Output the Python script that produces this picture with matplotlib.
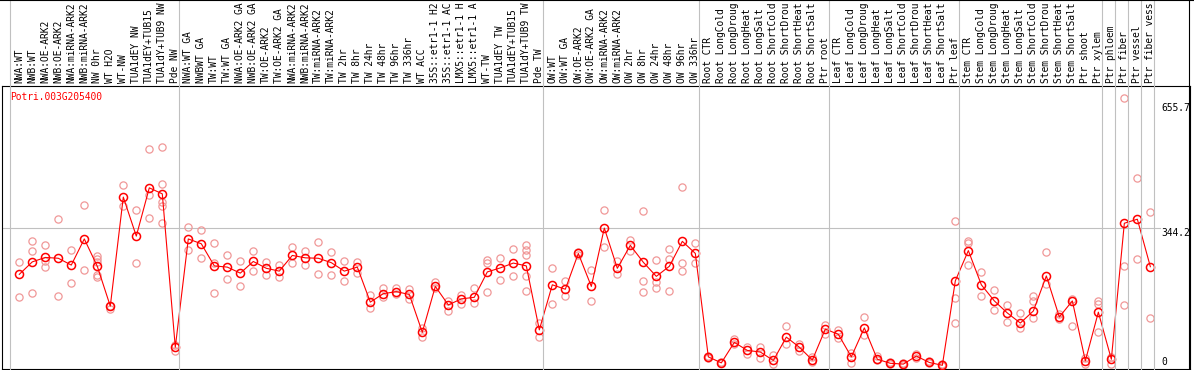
import matplotlib
matplotlib.use("Agg")
import matplotlib.pyplot as plt
import matplotlib.transforms as mtransforms
from matplotlib.lines import Line2D

gene = "Potri.003G205400"

labels = [
    "NWA:WT", "NWB:WT", "NWA:OE-ARK2", "NWB:OE-ARK2", "NWA:miRNA-ARK2", "NWB:miRNA-ARK2",
    "NW 0hr", "WT H2O", "WT-NW", "TUA1dEY NW", "TUA1dEY+TUB15", "TUA1dY+TUB9 NW", "Pde NW",
    "NWA:WT GA", "NWBWT GA", "TW:WT", "TW:WT GA", "NWA:OE-ARK2 GA", "NWB:OE-ARK2 GA",
    "TW:OE-ARK2", "TW:OE-ARK2 GA", "NWA:miRNA-ARK2", "NWB:miRNA-ARK2", "TW:miRNA-ARK2",
    "TW:miRNA-ARK2", "TW 2hr", "TW 8hr", "TW 24hr", "TW 48hr", "TW 96hr", "TW 336hr", "WT ACC",
    "35S::etr1-1 H2O", "35S::etr1-1 ACC", "LMX5::etr1-1 H2O", "LMX5::etr1-1 ACC", "WT-TW",
    "TUA1dEY TW", "TUA1dEY+TUB15", "TUA1dY+TUB9 TW", "Pde TW",
    "OW:WT", "OW:WT GA", "OW:OE-ARK2", "OW:OE-ARK2 GA", "OW:miRNA-ARK2", "OW:miRNA-ARK2",
    "OW 2hr", "OW 8hr", "OW 24hr", "OW 48hr", "OW 96hr", "OW 336hr",
    "Root CTR", "Root LongCold", "Root LongDrought", "Root LongHeat", "Root LongSalt",
    "Root ShortCold", "Root ShortDrought", "Root ShortHeat", "Root ShortSalt", "Ptr root",
    "Leaf CTR", "Leaf LongCold", "Leaf LongDrought", "Leaf LongHeat", "Leaf LongSalt",
    "Leaf ShortCold", "Leaf ShortDrought", "Leaf ShortHeat", "Leaf ShortSalt", "Ptr leaf",
    "Stem CTR", "Stem LongCold", "Stem LongDrought", "Stem LongHeat", "Stem LongSalt",
    "Stem ShortCold", "Stem ShortDrought", "Stem ShortHeat", "Stem ShortSalt", "Ptr shoot",
    "Ptr xylem", "Ptr phloem", "Ptr fiber", "Ptr vessel", "Ptr fiber vessel",
]

means = [
    229, 260, 271, 269, 252, 317, 249, 150, 421, 324, 444, 429, 48,
    317, 305, 250, 247, 232, 261, 244, 237, 276, 270, 269, 258, 237, 247, 160,
    181, 186, 179, 85, 199, 153, 168, 172, 235, 245, 257, 250, 91,
    203, 192, 281, 199, 344, 244, 301, 259, 224, 249, 311, 281,
    24, 9, 60, 40, 36, 15, 73, 48, 16, 93,
    80, 24, 96, 18, 8, 6, 26, 10, 3, 213,
    288, 203, 163, 133, 108, 138, 225, 123, 163, 14,
    135, 18, 356, 366, 248,
]

reps = [
    [260, 172], [311, 286, 183], [301, 262, 247], [366, 175], [289, 208], [401, 239],
    [275, 267, 260, 227, 223], [151, 143], [450, 399], [389, 257], [541, 425, 369],
    [545, 454, 409, 399, 356], [53, 39],
    [347, 289], [339, 269], [307, 257, 183], [277, 217], [262, 199], [287, 237],
    [260, 228], [252, 222], [297, 257], [287, 252], [309, 230], [285, 227], [262, 213],
    [259, 232], [178, 145], [194, 172], [195, 179], [192, 167], [96, 74], [211, 194],
    [163, 139], [177, 155], [194, 159], [265, 257, 185], [269, 215], [291, 225],
    [301, 290, 277, 225, 188], [107, 73],
    [244, 155], [213, 174], [284, 278], [240, 162], [388, 297], [261, 230], [314, 287],
    [386, 212, 184], [264, 211, 196], [291, 266, 188], [446, 257, 237], [306, 257],
    [26, 22], [10, 8], [68, 56], [49, 31], [48, 22], [28, 5], [100, 56], [55, 39],
    [23, 11], [103, 81],
    [91, 71], [34, 9], [123, 79], [27, 16], [10, 6], [8, 4], [31, 20], [14, 8], [5, 1],
    [361, 170, 107],
    [313, 306, 252], [235, 175], [190, 140], [153, 111], [133, 96], [175, 163, 121],
    [285, 205], [130, 118], [168, 100], [21, 6],
    [163, 155, 85], [23, 5], [667, 249, 152], [468, 266], [383, 120],
]

group_starts = [0, 13, 41, 53, 63, 73, 84, 85, 86, 87, 88]
scale_marks = [655.7, 344.2, 0]

fnt = "DejaVu Sans Mono"
fs = 6.9
max_chars = 14  # sample names are cut to 14 characters in the header strip

fig = plt.figure(figsize=(11.94, 3.70), dpi=100)
ax = fig.add_axes([2 / 1194, 1 / 370, 1188 / 1194, 283 / 370])
ax.set_xlim(-1.33, 90.05)
ax.set_ylim(-6.2, 697)
ax.set_xticks([])
ax.set_yticks([])
for sp in ax.spines.values():
    sp.set_linewidth(0.8)
    sp.set_color("black")

# group separators run through the label strip too
xfig = mtransforms.blended_transform_factory(ax.transData, fig.transFigure)
for g in group_starts:
    fig.add_artist(Line2D([g - 0.69, g - 0.69], [0, 1], transform=xfig,
                          color="#c0c0c0", lw=0.8, zorder=1))
fig.add_artist(Line2D([1189 / 1194, 1189 / 1194], [0, 1], transform=fig.transFigure,
                      color="black", lw=0.8))
fig.add_artist(Line2D([0, 1], [0.999, 0.999], transform=fig.transFigure,
                      color="black", lw=0.8))

ax.axhline(scale_marks[1], xmin=0, xmax=0.975, color="#c0c0c0", lw=0.8, zorder=1)

# replicates
rx, ry = [], []
for i, r in enumerate(reps):
    rx += [i] * len(r)
    ry += r
ax.plot(rx, ry, "o", ms=5.2, mfc="none", mec="#f09898", mew=0.9, zorder=2, clip_on=False)

x = list(range(len(means)))
ax.plot(x, means, "-", color="red", lw=0.8, zorder=3)
ax.plot(x, means, "o", ms=5.8, mfc="none", mec="red", mew=1.1, zorder=4)

for i, lab in enumerate(labels):
    fig.text(i, (370 - 83) / 370, lab[:max_chars], transform=xfig, rotation=90,
             ha="center", va="bottom", family=fnt, fontsize=fs, color="black")

ytr = mtransforms.blended_transform_factory(ax.transAxes, ax.transData)
ax.text(0.976, scale_marks[0], "%.1f" % scale_marks[0], transform=ytr, ha="left", va="top",
        family=fnt, fontsize=fs, clip_on=False)
ax.text(0.976, scale_marks[1], "%.1f" % scale_marks[1], transform=ytr, ha="left", va="top",
        family=fnt, fontsize=fs, clip_on=False)
ax.text(0.976, scale_marks[2], "%d" % scale_marks[2], transform=ytr, ha="left", va="bottom",
        family=fnt, fontsize=fs, clip_on=False)

fig.text(10 / 1194, (370 - 97) / 370, gene, ha="left", va="center", family=fnt,
         fontsize=fs, color="red")

fig.savefig("out.png", dpi=100)
